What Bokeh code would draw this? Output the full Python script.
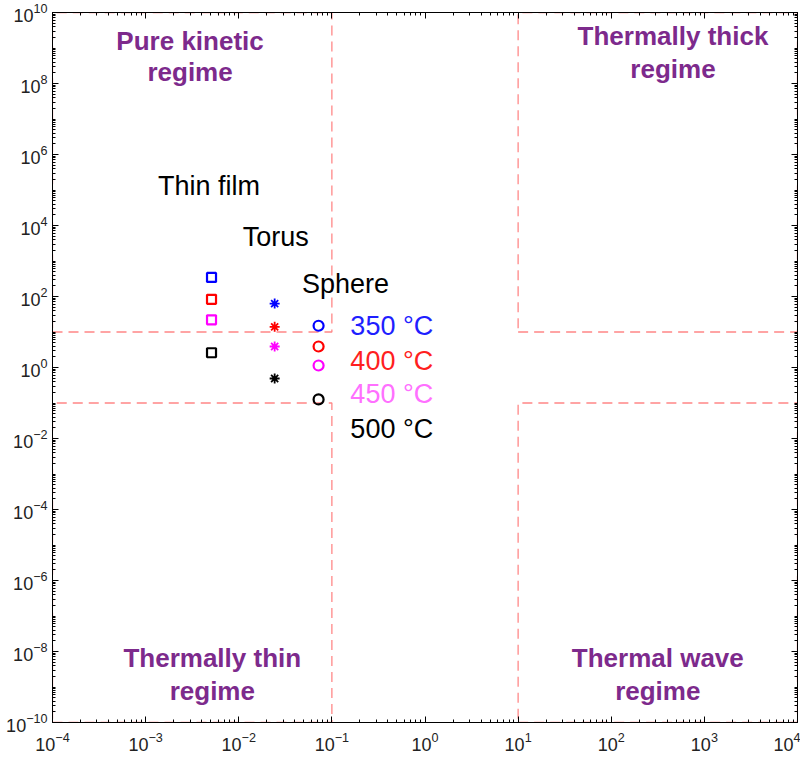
from bokeh.plotting import figure
from bokeh.models import LogAxis, Range1d, FixedTicker, ColumnDataSource, CustomJSTickFormatter
from bokeh.core.properties import value
from bokeh.embed import file_html
from bokeh.resources import INLINE

# ---- data ----
shapes = ["Thin film", "Torus", "Sphere"]
shape_x = [0.0051, 0.0243, 0.072]
temps = ["350 °C", "400 °C", "450 °C", "500 °C"]
thin_film_y = [345, 83, 22, 2.6]
torus_y = [63, 14, 3.9, 0.49]
sphere_y = [15, 3.9, 1.14, 0.126]
marker_colors = ["#0000ff", "#ff0000", "#ff00ff", "#000000"]
label_colors = ["#1f1fff", "#ff1f1f", "#ff70ff", "#000000"]
x_ticks = [1e-4, 1e-3, 1e-2, 1e-1, 1e0, 1e1, 1e2, 1e3, 1e4]
y_ticks = [1e-10, 1e-8, 1e-6, 1e-4, 1e-2, 1e0, 1e2, 1e4, 1e6, 1e8, 1e10]
x_bounds = [1e-4, 1e-1, 1e1, 1e4]
y_bounds = [1e-10, 1e-1, 1e1, 1e10]
regions = [("Pure kinetic", "regime"), ("Thermally thick", "regime"),
           ("Thermally thin", "regime"), ("Thermal wave", "regime")]

NARROW = "'Liberation Sans Narrow', 'Arial Narrow', 'Liberation Sans'"

x_minor = [m * 10.0**e for e in range(-4, 4) for m in range(2, 10)]
y_minor = [m * 10.0**e for e in range(-10, 10) for m in range(1, 10) if not (m == 1 and e % 2 == 0)]

p = figure(width=800, height=758, x_axis_type="log", y_axis_type="log",
           x_range=Range1d(1e-4, 1e4), y_range=Range1d(1e-10, 1e10),
           output_backend="svg", toolbar_location=None,
           min_border_left=52, min_border_right=3, min_border_top=12, min_border_bottom=36)
p.grid.visible = False
p.outline_line_color = "black"
p.outline_line_width = 1
p.background_fill_color = "white"
p.border_fill_color = "white"

for ax in (p.xaxis[0], p.yaxis[0]):
    ax.major_tick_in = 6
    ax.major_tick_out = 0
    ax.minor_tick_in = 3
    ax.minor_tick_out = 0
    ax.axis_line_color = "black"
    ax.major_label_text_font = NARROW
    ax.major_label_text_font_size = "18px"
    ax.major_label_text_color = "#222222"
p.xaxis[0].ticker = FixedTicker(ticks=x_ticks, minor_ticks=x_minor)
p.yaxis[0].ticker = FixedTicker(ticks=y_ticks, minor_ticks=y_minor)
p.yaxis[0].major_label_standoff = 5
p.xaxis[0].major_label_standoff = 9

blank = CustomJSTickFormatter(code="return ''")
top = LogAxis(ticker=FixedTicker(ticks=x_ticks, minor_ticks=x_minor), formatter=blank,
              major_tick_in=6, major_tick_out=0, minor_tick_in=3, minor_tick_out=0,
              major_label_standoff=0, major_label_text_font_size="1px")
right = LogAxis(ticker=FixedTicker(ticks=y_ticks, minor_ticks=y_minor), formatter=blank,
                major_tick_in=6, major_tick_out=0, minor_tick_in=3, minor_tick_out=0,
                major_label_standoff=0, major_label_text_font_size="1px")
p.add_layout(top, "above")
p.add_layout(right, "right")

# ---- region boundary dashed boxes ----
dash_color = "#ff7a7a"
xl, xm1, xm2, xr = x_bounds
yb, ym1, ym2, yt = y_bounds
boxes = [
    ([xl, xm1, xm1, xl, xl], [ym2, ym2, yt, yt, ym2]),
    ([xm2, xr, xr, xm2, xm2], [ym2, ym2, yt, yt, ym2]),
    ([xl, xm1, xm1, xl, xl], [yb, yb, ym1, ym1, yb]),
    ([xm2, xr, xr, xm2, xm2], [yb, yb, ym1, ym1, yb]),
]
for bx, by in boxes:
    p.line(bx, by, line_color=dash_color, line_dash="10 6", line_width=1.3, line_alpha=0.9)

# ---- markers ----
series = [(thin_film_y, "square", 9, 2.2), (torus_y, "asterisk", 10, 1.8), (sphere_y, "circle", 10, 2.2)]
for i, (yv, mk, sz, lw) in enumerate(series):
    src = ColumnDataSource(dict(x=[shape_x[i]] * len(yv), y=yv, c=marker_colors))
    p.scatter("x", "y", source=src, marker=mk, size=sz,
              line_color="c", fill_color=None, line_width=lw)

# ---- shape labels ----
shape_label_pos = [(0.0048, 1.26e5), (0.025, 4.6e3), (0.14, 219)]
p.text([q[0] for q in shape_label_pos], [q[1] for q in shape_label_pos], text=shapes,
       text_align="center", text_baseline="middle", text_font=value("Liberation Sans"),
       text_font_size="27px", text_color="black")

# ---- temperature labels ----
temp_label_y = [14.3, 1.57, 0.174, 0.019]
p.text([0.158] * 4, temp_label_y, text=temps, text_color=label_colors,
       text_align="left", text_baseline="middle", text_font=value("Liberation Sans"),
       text_font_size="27px")

# ---- regime labels ----
region_pos = [(3.0e-3, 10**9.21, 10**8.31), (460, 10**9.35, 10**8.42),
              (5.2e-3, 10**-8.17, 10**-9.1), (316, 10**-8.17, 10**-9.1)]
for (l1, l2), (rx, ry1, ry2) in zip(regions, region_pos):
    p.text([rx, rx], [ry1, ry2], text=[l1, l2], text_align="center", text_baseline="middle",
           text_font=value(NARROW), text_font_style="bold", text_font_size="26px",
           text_color="#7d2a8c")

open("out.html", "w").write(file_html(p, INLINE))
